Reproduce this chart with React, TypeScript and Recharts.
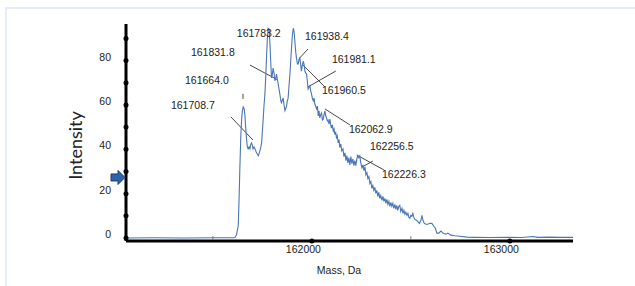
import { Label, Line, LineChart, ReferenceDot, ReferenceLine, XAxis, YAxis } from "recharts";

// deconvoluted spectrum, [mass Da, intensity]
const baseline: [number, number][] = [
  [161061, 0], [161200, 0.1], [161350, 0], [161500, 0.1], [161600, 0.1], [161611, 0.2],
];
const firstPeak: [number, number][] = [
  [161619, 1.3], [161628, 5.6], [161632, 17], [161636, 31], [161641, 46], [161645, 53.6], [161649, 57.3],
  [161653, 59.1], [161658, 58.2], [161662, 55], [161666, 49.3], [161670, 44.7], [161674, 41.1], [161678, 40.2],
  [161683, 41.1], [161687, 40.2], [161692, 42.4], [161695, 42.9], [161699, 42], [161703, 40.2], [161708, 41],
  [161712, 40.2], [161716, 39.5], [161720, 38.4], [161725, 37.8], [161729, 37.1], [161733, 38], [161737, 39.3],
  [161742, 41], [161746, 42.9], [161750, 48.3], [161754, 53.6], [161758, 59.5], [161763, 65.4], [161767, 73],
  [161771, 82], [161775, 89.6], [161779, 94.6], [161784, 94.1],
];
const mainPeaks: [number, number][] = [
  [161788, 87.8], [161792, 79.7], [161796, 72.2], [161800, 73.5], [161804, 76.6], [161809, 74.3], [161813, 70.9],
  [161817, 71.8], [161821, 73.9], [161825, 71.8], [161830, 69.4], [161834, 67.2], [161838, 65], [161843, 61.9],
  [161846, 61], [161851, 62.2], [161855, 63.1], [161859, 60.1], [161864, 57.4], [161869, 58.6], [161872, 59.5],
  [161876, 61.9], [161880, 63.1], [161884, 68.1], [161889, 73.9], [161893, 79.7], [161897, 85.6], [161901, 91],
  [161906, 94.6], [161910, 93.2], [161914, 88.7], [161918, 84.2], [161922, 81.2], [161927, 78.5], [161931, 78.5],
  [161935, 80.6], [161939, 81.2], [161943, 78.5], [161947, 75.2], [161951, 77.5], [161956, 79.7], [161960, 78.5],
  [161965, 75.2], [161969, 74.3], [161973, 73.9], [161977, 70.9], [161981, 67.2], [161986, 68.1], [161990, 68.6],
  [161994, 66.3], [161998, 65],
];
const decay: [number, number][] = [
  [162003, 62.8], [162007, 61.9], [162011, 63.1], [162015, 60.4], [162019, 59.5], [162024, 58.2], [162028, 59.5],
  [162032, 55], [162036, 57.3], [162040, 54.1], [162044, 55.5], [162049, 56.4], [162053, 53.2], [162057, 53.6],
  [162061, 55.5], [162066, 57.3], [162070, 55], [162074, 54.1], [162078, 52.8], [162082, 53.2], [162087, 51.4],
  [162091, 53.6], [162095, 51], [162099, 49.6], [162103, 51], [162108, 48.3], [162112, 49.2], [162116, 46.6],
  [162120, 47.9], [162124, 45.3], [162128, 46.2], [162133, 42.9], [162137, 44.4], [162141, 40.8], [162146, 42.4],
  [162151, 39.3], [162157, 40.2], [162162, 36.7], [162167, 38.4], [162172, 34.9], [162177, 37.1], [162182, 33.9],
  [162187, 36.2], [162192, 33], [162197, 36.7], [162202, 33.5], [162207, 35.7], [162212, 32.6], [162217, 34.9],
  [162222, 32.6], [162227, 35.7], [162232, 37.1], [162237, 36.2], [162242, 37.1], [162247, 33.9], [162253, 31.7],
  [162258, 33], [162263, 30.4], [162268, 32.1], [162273, 28.5], [162278, 29.4], [162283, 26.8], [162288, 27.7],
  [162293, 24.6], [162298, 25.5], [162303, 22.4], [162308, 23.7],
];
const tail: [number, number][] = [
  [162313, 21.5], [162318, 22.8], [162323, 20.1], [162328, 21.5], [162333, 18.8], [162338, 20.6], [162343, 17.9],
  [162348, 19.2], [162354, 17], [162359, 18.8], [162364, 16.5], [162369, 17.9], [162374, 15.6], [162379, 17.4],
  [162384, 15.2], [162389, 16.5], [162394, 14.3], [162399, 16.1], [162404, 14.3], [162409, 15.6], [162414, 13.4],
  [162419, 15.2], [162424, 12.9], [162429, 14.7], [162434, 12.5], [162439, 14.3], [162444, 14.7], [162449, 12],
  [162455, 13.4], [162460, 11.1], [162465, 12.5], [162470, 10.7], [162475, 11.6], [162480, 10.2], [162485, 11.1],
  [162490, 9.3], [162495, 8.9], [162500, 10.2], [162505, 9.8], [162510, 11.1], [162515, 9.3], [162520, 8.4],
  [162528, 8], [162535, 7.5], [162543, 6.6], [162551, 8], [162556, 10.2], [162561, 8], [162568, 6.6], [162576, 6.2],
  [162586, 6.2], [162596, 6.6], [162606, 6.6], [162616, 5.3], [162624, 4.4], [162631, 2.2], [162641, 2.2],
  [162652, 3.1], [162662, 2.2], [162677, 1.7], [162687, 2.2], [162702, 1.3], [162722, 1], [162747, 0.8],
  [162783, 0.4], [162823, 0.3], [162900, 0.2], [162990, 0.3], [163060, 0.2], [163116, 0.7], [163140, 0.3],
  [163200, 0.4], [163260, 0.3], [163319, 0.3],
];

const xTicks = [161500, 162000, 162500, 163000];
const xLabelled = [162000, 163000];
const yTicks = [0, 10, 20, 30, 40, 50, 60, 70, 80, 90];

// peak annotations: text, where the text starts (mass, intensity)
const peakText = ["161783.2", "161938.4", "161831.8", "161664.0", "161708.7", "161981.1", "161960.5", "162062.9", "162256.5", "162226.3"];
const peakTextMass = [161621, 161965, 161389, 161359, 161288, 162101, 162051, 162187, 162293, 162354];
const peakTextInt = [90.7, 89.3, 82.1, 69.5, 58.2, 78.9, 65, 47.4, 39.7, 27.1];

// leader lines [mass1, int1, mass2, int2]
const leaders: [number, number, number, number][] = [
  [161980, 85.2, 161939, 81.2],
  [161687, 78, 161823, 71.5],
  [161652, 65, 161652, 62.7],
  [161591, 54.6, 161702, 44.2],
  [162121, 75.3, 161980, 68.1],
  [161955, 78, 162066, 68.1],
  [162066, 58.2, 162192, 51],
  [162253, 32, 162308, 34.7],
  [162227, 37.4, 162364, 30.7],
];

const arrowMass = 161061;
const arrowInt = 27.3;

const data = [...baseline, ...firstPeak, ...mainPeaks, ...decay, ...tail].map(([m, v]) => ({ m, v }));

const FONT = "'Liberation Sans', Arial, sans-serif";

function YTick({ x, y, payload }: any) {
  return (
    <g>
      <circle cx={x} cy={y} r={2.5} fill="#000" />
      {payload.value % 20 === 0 && (
        <text x={x - 15} y={y} textAnchor="end" fontSize={10.5} fill="#222" fontFamily={FONT}>
          {payload.value}
        </text>
      )}
    </g>
  );
}

function XTick({ x, y, payload }: any) {
  if (!xLabelled.includes(payload.value)) {
    return <line x1={x} x2={x} y1={y - 5} y2={y - 1} stroke="#666" strokeWidth={0.8} />;
  }
  return (
    <g>
      <circle cx={x} cy={y} r={2.5} fill="#000" />
      <text x={x - 8.5} y={y + 12} textAnchor="middle" fontSize={10.5} fill="#222" fontFamily={FONT}>
        {payload.value}
      </text>
    </g>
  );
}

function YTitle({ viewBox }: any) {
  const cx = viewBox.x + 75;
  const cy = viewBox.y + viewBox.height / 2 + 13;
  return (
    <text x={cx} y={cy} transform={`rotate(-90 ${cx} ${cy})`} textAnchor="middle" dominantBaseline="central"
      fontSize={18} fill="#222" fontFamily="Lato, 'Open Sans', sans-serif">
      Intensity
    </text>
  );
}

function XTitle({ viewBox }: any) {
  return (
    <text x={viewBox.x + 213} y={viewBox.y + 33} textAnchor="middle" fontSize={10.5} fill="#222" fontFamily={FONT}>
      Mass, Da
    </text>
  );
}

function Arrow({ cx, cy }: any) {
  const t = cx - 1;
  return (
    <path
      d={`M ${t - 14} ${cy - 3.5} L ${t - 7} ${cy - 3.5} L ${t - 7} ${cy - 7} L ${t} ${cy} L ${t - 7} ${cy + 7} L ${t - 7} ${cy + 3.5} L ${t - 14} ${cy + 3.5} Z`}
      fill="#2f62ad" stroke="#1d3c6e" strokeWidth={1}
    />
  );
}

export default function App() {
  return (
    <div style={{ position: "absolute", left: 0, top: 0, width: 635, height: 286, overflow: "hidden", background: "#fff" }}>
      <div style={{ position: "absolute", left: 5, top: 7, width: 700, height: 400, border: "2px solid #e6eef9" }} />
      <div style={{ position: "absolute", left: 0, top: 0 }}>
        <LineChart width={635} height={286} data={data} margin={{ top: 24, right: 62, bottom: 0, left: 0 }}>
          <XAxis dataKey="m" type="number" domain={[161061, 163319]} allowDataOverflow ticks={xTicks} interval={0}
            height={45} tickSize={0} tickMargin={0} tickLine={false} tick={<XTick />}
            axisLine={{ stroke: "#000", strokeWidth: 3 }}>
            <Label content={<XTitle />} />
          </XAxis>
          <YAxis type="number" domain={[-1.35, 96.5]} allowDataOverflow ticks={yTicks} interval={0} width={126}
            tickSize={0} tickMargin={0} tickLine={false} tick={<YTick />}
            axisLine={{ stroke: "#000", strokeWidth: 3 }}>
            <Label content={<YTitle />} />
          </YAxis>
          {leaders.map(([m1, v1, m2, v2], i) => (
            <ReferenceLine key={`l${i}`} segment={[{ x: m1, y: v1 }, { x: m2, y: v2 }]} stroke="#333" strokeWidth={0.9} />
          ))}
          <Line type="linear" dataKey="v" stroke="#4a76b5" strokeWidth={1.1} dot={false} isAnimationActive={false} />
          {peakText.map((t, i) => (
            <ReferenceDot key={`t${i}`} x={peakTextMass[i]} y={peakTextInt[i]} ifOverflow="visible"
              shape={(p: any) => (
                <text x={p.cx} y={p.cy} fontSize={10.5} fill="#222" fontFamily={FONT}>{t}</text>
              )} />
          ))}
          <ReferenceDot x={arrowMass} y={arrowInt} ifOverflow="visible" shape={(p: any) => <Arrow {...p} />} />
        </LineChart>
      </div>
    </div>
  );
}
